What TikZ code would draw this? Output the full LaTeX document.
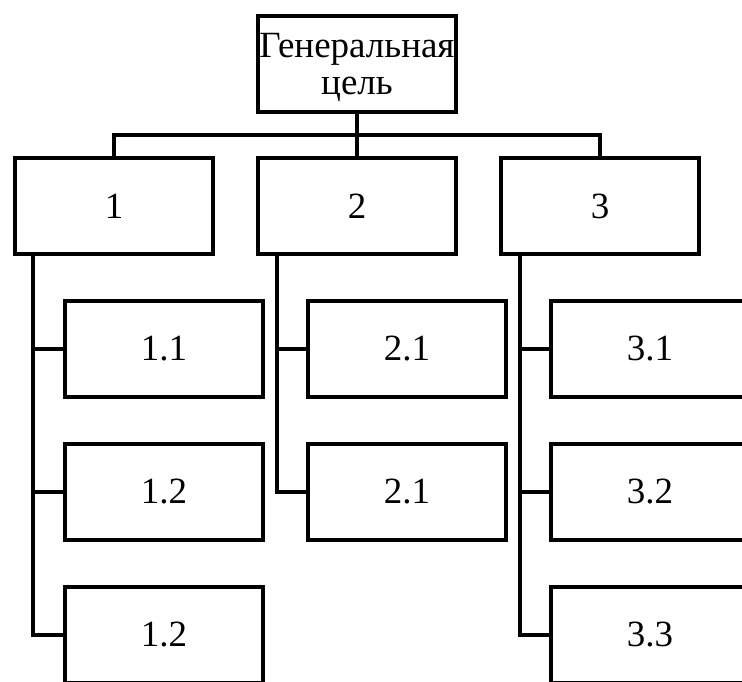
\documentclass[tikz,border=0pt]{standalone}
\usepackage{fontspec}
\setmainfont{Liberation Serif}
\begin{document}
\begin{tikzpicture}[x=1pt,y=-1pt,
  txt/.style={inner sep=0pt, align=center, font=\fontsize{37}{37}\selectfont},
  box/.style={txt, draw=black, line width=4pt, fill=white, minimum width=198pt,
    minimum height=96pt},
  link/.style={draw=black, line width=4pt, line join=miter}]
\useasboundingbox (0,0) rectangle (742,682);
\clip (0,0) rectangle (742,682);

% root: frame plus its two-line caption, set slightly low in the frame
\node[box] (top) at (357,64) {};
\node[txt] (toptext) at ([yshift=-3pt]top.center) {Генеральная\\цель};

% first level
\node[box] (n1) at (114,206) {1};
\node[box] (n2) at (357,206) {2};
\node[box] (n3) at (600,206) {3};

% bus between root and first level
\coordinate (bus) at (357,135);
\draw[link] (top.south) -- (n2.north);
\draw[link] (n1.north) -- (n1.north |- bus) -- (n3.north |- bus) -- (n3.north);

% trunks under first-level boxes
\coordinate (t1) at (33,206);
\coordinate (t2) at (277,206);
\coordinate (t3) at (520,206);

% second level
\node[box] (n11) at (164,349) {1.1};
\node[box] (n12) at (164,492) {1.2};
\node[box] (n13) at (164,635) {1.2};
\node[box] (n21) at (407,349) {2.1};
\node[box] (n22) at (407,492) {2.1};
\node[box] (n31) at (650,349) {3.1};
\node[box] (n32) at (650,492) {3.2};
\node[box] (n33) at (650,635) {3.3};

% connectors to second level
\draw[link] (t1 |- n1.south) |- (n13.west);
\draw[link] (t1 |- n11.west) -- (n11.west);
\draw[link] (t1 |- n12.west) -- (n12.west);
\draw[link] (t2 |- n2.south) |- (n22.west);
\draw[link] (t2 |- n21.west) -- (n21.west);
\draw[link] (t3 |- n3.south) |- (n33.west);
\draw[link] (t3 |- n31.west) -- (n31.west);
\draw[link] (t3 |- n32.west) -- (n32.west);
\end{tikzpicture}
\end{document}
